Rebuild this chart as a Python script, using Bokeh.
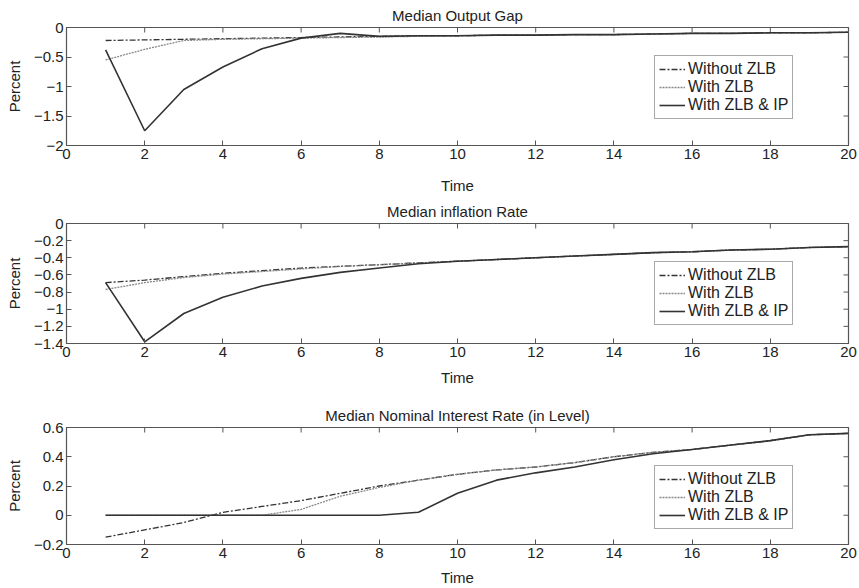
import math
from bokeh.plotting import figure
from bokeh.layouts import column
from bokeh.models import (Range1d, FixedTicker, Legend, LegendItem,
                          CustomJSTickFormatter)
from bokeh.embed import file_html
from bokeh.resources import INLINE

time = list(range(1, 21))

# Median Output Gap
gap_no_zlb = [-0.22, -0.21, -0.20, -0.19, -0.18, -0.17, -0.16, -0.15, -0.14, -0.14,
              -0.13, -0.13, -0.12, -0.12, -0.11, -0.10, -0.10, -0.09, -0.09, -0.08]
gap_zlb = [-0.55, -0.37, -0.22, -0.20, -0.19, -0.18, -0.17, -0.16, -0.15, -0.14,
           -0.13, -0.13, -0.12, -0.12, -0.11, -0.10, -0.10, -0.09, -0.09, -0.08]
gap_zlb_ip = [-0.38, -1.75, -1.05, -0.67, -0.36, -0.18, -0.10, -0.15, -0.14, -0.14,
              -0.13, -0.13, -0.12, -0.12, -0.11, -0.10, -0.10, -0.09, -0.09, -0.08]

# Median inflation Rate
inf_no_zlb = [-0.69, -0.66, -0.62, -0.58, -0.55, -0.52, -0.50, -0.48, -0.46, -0.44,
              -0.42, -0.40, -0.38, -0.36, -0.34, -0.33, -0.31, -0.30, -0.28, -0.27]
inf_zlb = [-0.77, -0.69, -0.63, -0.59, -0.56, -0.53, -0.50, -0.48, -0.46, -0.44,
           -0.42, -0.40, -0.38, -0.36, -0.34, -0.33, -0.31, -0.30, -0.28, -0.27]
inf_zlb_ip = [-0.69, -1.38, -1.05, -0.86, -0.73, -0.64, -0.57, -0.52, -0.47, -0.44,
              -0.42, -0.40, -0.38, -0.36, -0.34, -0.33, -0.31, -0.30, -0.28, -0.27]

# Median Nominal Interest Rate (in Level)
rate_no_zlb = [-0.15, -0.10, -0.05, 0.02, 0.06, 0.10, 0.15, 0.20, 0.24, 0.28,
               0.31, 0.33, 0.36, 0.40, 0.43, 0.45, 0.48, 0.51, 0.55, 0.56]
rate_zlb = [0.0, 0.0, 0.0, 0.0, 0.0, 0.04, 0.13, 0.19, 0.24, 0.28,
            0.31, 0.33, 0.36, 0.40, 0.43, 0.45, 0.48, 0.51, 0.55, 0.56]
rate_zlb_ip = [0.0, 0.0, 0.0, 0.0, 0.0, 0.0, 0.0, 0.0, 0.02, 0.15,
               0.24, 0.29, 0.33, 0.38, 0.42, 0.45, 0.48, 0.51, 0.55, 0.56]

x_ticks = [0, 2, 4, 6, 8, 10, 12, 14, 16, 18, 20]
series_names = ["Without ZLB", "With ZLB", "With ZLB & IP"]

FONT = "Liberation Sans"
TXT = "#222222"
FRAME = "#555555"

fmt = CustomJSTickFormatter(code="""
    const v = Math.round(tick * 10) / 10;
    return v.toString().replace('-', '\u2212');
""")


def make_panel(title, ys, y_range, y_ticks, top, bottom, label_standoff, legend_y):
    x0, x1 = 0, 20
    y0, y1 = y_range
    p = figure(width=859, height=196, output_backend="svg", toolbar_location=None,
               x_range=Range1d(x0, x1), y_range=Range1d(y0, y1),
               min_border_left=66, min_border_right=11,
               min_border_top=top, min_border_bottom=bottom)
    p.title.text = title
    p.title.align = "center"
    p.title.vertical_align = "top"
    p.title.text_font = FONT
    p.title.text_font_size = "15px"
    p.title.text_font_style = "normal"
    p.title.text_color = TXT
    p.title.offset = 0
    p.title.standoff = 4
    p.xgrid.visible = False
    p.ygrid.visible = False
    p.outline_line_color = FRAME
    p.outline_line_width = 1.2

    for ax in p.xaxis:
        ax.ticker = FixedTicker(ticks=x_ticks)
        ax.axis_label = "Time"
        ax.axis_label_standoff = label_standoff
    for ax in p.yaxis:
        ax.ticker = FixedTicker(ticks=y_ticks)
        ax.formatter = fmt
        ax.axis_label = "Percent"
        ax.axis_label_standoff = 8
    for ax in p.xaxis + p.yaxis:
        ax.major_tick_in = 5
        ax.major_tick_out = 0
        ax.minor_tick_in = 0
        ax.minor_tick_out = 0
        ax.axis_line_color = FRAME
        ax.major_tick_line_color = FRAME
        ax.major_label_text_font = FONT
        ax.major_label_text_font_size = "15px"
        ax.major_label_text_color = TXT
        ax.major_label_standoff = 3
        ax.axis_label_text_font = FONT
        ax.axis_label_text_font_size = "15px"
        ax.axis_label_text_font_style = "normal"
        ax.axis_label_text_color = TXT

    # mirrored inward ticks on the top and right edges (box on); the outer half is clipped
    p.scatter(x_ticks, [y1] * len(x_ticks), marker="dash", size=10, angle=math.pi / 2,
              line_color=FRAME, line_width=1)
    p.scatter([x1] * len(y_ticks), y_ticks, marker="dash", size=10,
              line_color=FRAME, line_width=1)

    r1 = p.line(time, ys[0], line_color="#333333", line_width=1.3, line_dash="6 2 2 2")
    r2 = p.line(time, ys[1], line_color="#888888", line_width=1.3, line_dash="2 1")
    r3 = p.line(time, ys[2], line_color="#333333", line_width=1.6)

    legend = Legend(items=[LegendItem(label=series_names[0], renderers=[r1]),
                           LegendItem(label=series_names[1], renderers=[r2]),
                           LegendItem(label=series_names[2], renderers=[r3])],
                    location=(588, legend_y))
    legend.label_text_font = FONT
    legend.label_text_font_size = "16px"
    legend.label_text_color = TXT
    legend.label_height = 16
    legend.glyph_height = 16
    legend.glyph_width = 26
    legend.label_standoff = 3
    legend.spacing = 0
    legend.padding = 4
    legend.margin = 0
    legend.border_line_color = FRAME
    legend.border_line_width = 1.2
    legend.background_fill_color = "white"
    legend.background_fill_alpha = 1
    p.add_layout(legend, "center")
    return p


p1 = make_panel("Median Output Gap", [gap_no_zlb, gap_zlb, gap_zlb_ip], (-2, 0),
                [0, -0.5, -1, -1.5, -2], 27, 51, 15, 26)
p2 = make_panel("Median inflation Rate", [inf_no_zlb, inf_zlb, inf_zlb_ip], (-1.4, 0),
                [0, -0.2, -0.4, -0.6, -0.8, -1, -1.2, -1.4], 27, 49, 9, 18)
p3 = make_panel("Median Nominal Interest Rate (in Level)", [rate_no_zlb, rate_zlb, rate_zlb_ip],
                (-0.2, 0.6), [-0.2, 0, 0.2, 0.4, 0.6], 35, 44, 8, 15)

layout = column(p1, p2, p3, spacing=0)

open("out.html", "w").write(file_html(layout, INLINE))
